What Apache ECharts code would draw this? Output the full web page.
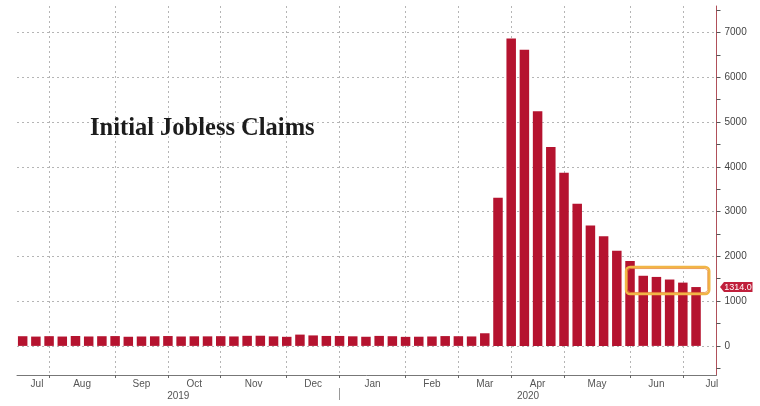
<!DOCTYPE html>
<html>
<head>
<meta charset="utf-8">
<script src="https://cdn.jsdelivr.net/npm/echarts@6/dist/echarts.min.js"></script>
<style>
html,body{margin:0;padding:0;background:#fff;}
#chart{width:760px;height:406px;}
</style>
</head>
<body>
<div id="chart"></div>
<script>
// Weekly initial jobless claims (thousands), weeks ending 2019-07-13 ... 2020-07-04
const claims = [
  216, 208, 217, 209, 221, 210, 216, 219,
  204, 210, 214, 220, 210, 214, 213, 217,
  211, 225, 227, 213, 203, 252, 234, 222,
  222, 214, 204, 223, 216, 202, 205, 210,
  219, 216, 211, 282,
  3307, 6867, 6615, 5237, 4442, 3867, 3176, 2687,
  2446, 2123, 1897, 1566, 1540, 1482, 1413, 1314
];
// week index of the month-start tick marks (Aug 2019 ... Jul 2020)
const monthTickIdx = [2, 7, 11, 15, 20, 24, 29, 33, 37, 41, 46, 50];
const monthNames = ['Jul','Aug','Sep','Oct','Nov','Dec','Jan','Feb','Mar','Apr','May','Jun','Jul'];
const yearNames = ['2019', '2020'];
const yearBoundaryIdx = 24;
const yLabelValues = [0, 1000, 2000, 3000, 4000, 5000, 6000, 7000];
const yTickValues = [-500, 0, 500, 1000, 1500, 2000, 2500, 3000, 3500, 4000, 4500, 5000, 5500, 6000, 6500, 7000, 7500];
const lastValueLabel = '1314.0';
const highlightFromIdx = 46, highlightToIdx = 51, highlightLow = 1160, highlightHigh = 1760;

const X_MIN = -0.43, X_MAX = 52.55;
const Y_MIN = -650, Y_MAX = 7590;

// label positions: midway between month boundaries
const bounds = [X_MIN].concat(monthTickIdx).concat([X_MAX]);
const monthLabelPos = [];
for (let k = 0; k < monthNames.length; k++) {
  let p = (bounds[k] + bounds[k + 1]) / 2;
  if (k === 0) p += 0.3;
  if (k === monthNames.length - 1) p = X_MAX - 0.35;
  monthLabelPos.push(p);
}
const yearLabelPos = [(X_MIN + yearBoundaryIdx) / 2, (yearBoundaryIdx + X_MAX) / 2];

function nearestName(v, positions, names) {
  let best = 0, bd = Infinity;
  positions.forEach((p, i) => { const d = Math.abs(p - v); if (d < bd) { bd = d; best = i; } });
  return names[best];
}

const chart = echarts.init(document.getElementById('chart'), null, {renderer: 'canvas'});
const grid = {left: 17, right: 43.5, top: 6, bottom: 31};
const gridLine = {show: true, lineStyle: {color: '#b5b5b5', type: [2, 3], width: 1}};

chart.setOption({
  animation: false,
  backgroundColor: '#ffffff',
  grid: grid,
  xAxis: [
    {
      type: 'value', min: X_MIN, max: X_MAX, position: 'bottom',
      axisLine: {show: true, onZero: false, lineStyle: {color: '#777', width: 1}},
      axisTick: {show: true, customValues: monthTickIdx, length: 3, lineStyle: {color: '#666'}},
      splitLine: gridLine,
      axisLabel: {
        show: true, customValues: monthLabelPos, margin: 4,
        fontFamily: 'Liberation Sans', fontSize: 10, color: '#555',
        formatter: v => nearestName(v, monthLabelPos, monthNames)
      }
    },
    {
      type: 'value', min: X_MIN, max: X_MAX, position: 'bottom', offset: 13,
      axisLine: {show: false, onZero: false},
      axisTick: {show: true, customValues: [yearBoundaryIdx], length: 12, lineStyle: {color: '#999'}},
      splitLine: {show: false},
      axisLabel: {
        show: true, customValues: yearLabelPos, margin: 3,
        fontFamily: 'Liberation Sans', fontSize: 10, color: '#555',
        formatter: v => nearestName(v, yearLabelPos, yearNames)
      }
    }
  ],
  yAxis: [
    {
      type: 'value', min: Y_MIN, max: Y_MAX, position: 'right',
      axisLine: {show: true, onZero: false, lineStyle: {color: '#b0505a', width: 1}},
      axisTick: {show: true, customValues: yTickValues, length: 4, lineStyle: {color: '#555'}},
      splitLine: {show: false},
      axisLabel: {
        show: true, customValues: yLabelValues, margin: 8,
        fontFamily: 'Liberation Sans', fontSize: 10, color: '#444',
        formatter: v => String(v)
      }
    },
    {
      type: 'value', min: Y_MIN, max: Y_MAX, position: 'left',
      axisLine: {show: false, onZero: false},
      axisTick: {show: false, customValues: yLabelValues},
      splitLine: gridLine,
      axisLabel: {show: false}
    }
  ],
  series: [
    {
      type: 'bar', xAxisIndex: 0, yAxisIndex: 0,
      barWidth: 9.5,
      data: claims.map((v, i) => [i, v]),
      itemStyle: {color: '#b5132f'}
    }
  ]
});

// annotations positioned from data coordinates
const p0 = chart.convertToPixel({xAxisIndex: 0, yAxisIndex: 0}, [highlightFromIdx - 0.3, highlightHigh]);
const p1 = chart.convertToPixel({xAxisIndex: 0, yAxisIndex: 0}, [highlightToIdx + 1.0, highlightLow]);
const last = chart.convertToPixel({xAxisIndex: 0, yAxisIndex: 0}, [claims.length - 1, claims[claims.length - 1]]);
const axisX = chart.getWidth() - grid.right;

chart.setOption({
  graphic: [
    {
      type: 'text', left: 90, top: 116,
      style: {text: 'Initial Jobless Claims', font: 'bold 24.5px "Liberation Serif"', fill: '#1c1c1c'}
    },
    {
      type: 'rect',
      shape: {x: p0[0], y: p0[1], width: p1[0] - p0[0], height: p1[1] - p0[1], r: 4},
      style: {fill: 'rgba(0,0,0,0)', stroke: '#f1b546', lineWidth: 2.5},
      z: 100
    },
    {
      type: 'rect',
      shape: {x: p0[0] + 1.5, y: p0[1] + 1.5, width: p1[0] - p0[0] - 3, height: p1[1] - p0[1] - 3, r: 3},
      style: {fill: 'rgba(0,0,0,0)', stroke: '#e8893a', lineWidth: 0.8},
      z: 101
    },
    {
      type: 'polygon',
      shape: {points: [[axisX + 3.5, last[1]], [axisX + 7.5, last[1] - 5], [axisX + 36, last[1] - 5], [axisX + 36, last[1] + 5], [axisX + 7.5, last[1] + 5]]},
      style: {fill: '#c0203c'},
      z: 100
    },
    {
      type: 'text', x: axisX + 21.5, y: last[1],
      style: {text: lastValueLabel, font: '9px "Liberation Sans"', fill: '#fff', align: 'center', verticalAlign: 'middle'},
      z: 101
    }
  ]
});
</script>
</body>
</html>
